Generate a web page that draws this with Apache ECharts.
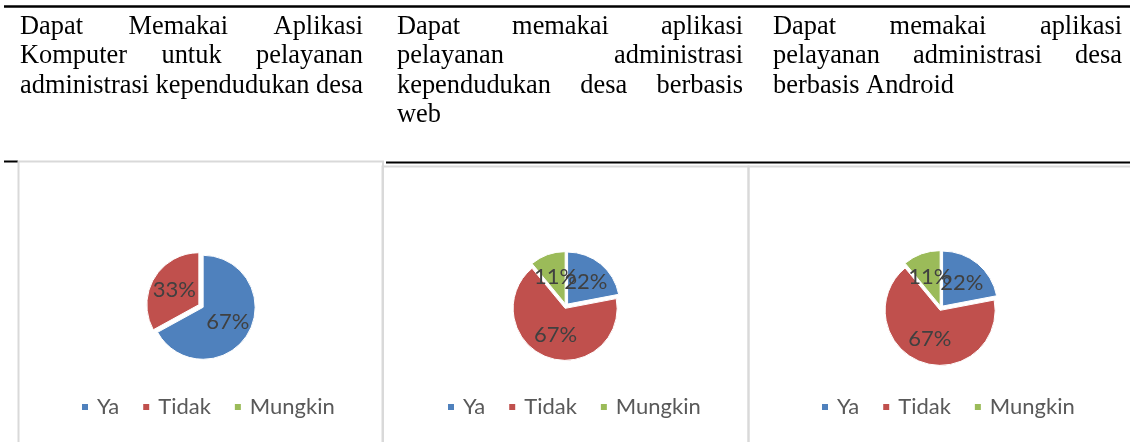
<!DOCTYPE html>
<html>
<head>
<meta charset="utf-8">
<script src="https://cdn.jsdelivr.net/npm/echarts@6/dist/echarts.min.js"></script>
<style>
html,body{margin:0;padding:0;background:#fff;}
#main{width:1130px;height:442px;}
</style>
</head>
<body>
<div id="main"></div>
<script>
// ---- data ----
const categories = ['Ya', 'Tidak', 'Mungkin'];
const valuesKomputer = [67, 33, 0];
const valuesWeb = [22, 67, 11];
const valuesAndroid = [22, 67, 11];
const headKomputer = ['Dapat Memakai Aplikasi', 'Komputer untuk pelayanan', 'administrasi kependudukan desa'];
const headWeb = ['Dapat memakai aplikasi', 'pelayanan administrasi', 'kependudukan desa berbasis', 'web'];
const headAndroid = ['Dapat memakai aplikasi', 'pelayanan administrasi desa', 'berbasis Android'];

// ---- layout ----
const palette = ['#4F81BD', '#C0504D', '#9BBB59'];
const serifFont = '26.4px "Liberation Serif"';
const headCols = [
  { lines: headKomputer, x0: 20, x1: 363 },
  { lines: headWeb, x0: 397, x1: 743 },
  { lines: headAndroid, x0: 773, x1: 1122 }
];
const firstBaseline = 35, lineStep = 29.6, midShift = 8.3;
const labelFont = 'Lato';
const labelSize = 22;
const explode = 2.5;

const ctx = document.createElement('canvas').getContext('2d');
ctx.font = serifFont;
const graphic = [];
headCols.forEach(col => {
  col.lines.forEach((line, i) => {
    const y = firstBaseline + i * lineStep - midShift;
    const last = i === col.lines.length - 1;
    const words = line.split(' ');
    if (last || words.length < 2) {
      graphic.push({ type: 'text', x: col.x0, y: y, silent: true,
        style: { text: line, font: serifFont, fill: '#000', align: 'left', verticalAlign: 'middle' } });
    } else {
      const widths = words.map(w => ctx.measureText(w).width);
      const total = widths.reduce((a, b) => a + b, 0);
      const gap = (col.x1 - col.x0 - total) / (words.length - 1);
      let x = col.x0;
      words.forEach((w, k) => {
        graphic.push({ type: 'text', x: x, y: y, silent: true,
          style: { text: w, font: serifFont, fill: '#000', align: 'left', verticalAlign: 'middle' } });
        x += widths[k] + gap;
      });
    }
  });
});
// rules
graphic.push({ type: 'line', silent: true, shape: { x1: 4, y1: 6.5, x2: 1130, y2: 6.5 }, style: { stroke: '#000', lineWidth: 2.5 } });
graphic.push({ type: 'line', silent: true, shape: { x1: 4, y1: 161.5, x2: 18, y2: 161.5 }, style: { stroke: '#000', lineWidth: 2 } });
graphic.push({ type: 'line', silent: true, shape: { x1: 386, y1: 162.5, x2: 1130, y2: 162.5 }, style: { stroke: '#000', lineWidth: 2 } });
// chart frames
graphic.push({ type: 'rect', silent: true, shape: { x: 18.5, y: 161.5, width: 364.5, height: 320 }, style: { fill: null, stroke: '#d9d9d9', lineWidth: 2 } });
graphic.push({ type: 'rect', silent: true, shape: { x: 382.5, y: 166.5, width: 366, height: 320 }, style: { fill: null, stroke: '#d9d9d9', lineWidth: 2 } });
graphic.push({ type: 'rect', silent: true, shape: { x: 748.5, y: 166.5, width: 400, height: 320 }, style: { fill: null, stroke: '#d9d9d9', lineWidth: 2 } });

const pies = [
  { vals: valuesKomputer, center: [201, 306], r: 52, legendLeft: 80 },
  { vals: valuesWeb, center: [566, 306], r: 52, legendLeft: 446 },
  { vals: valuesAndroid, center: [941, 308], r: 55, legendLeft: 820 }
];

const option = {
  backgroundColor: '#fff',
  animation: false,
  color: palette,
  legend: pies.map(p => ({
    data: categories,
    left: p.legendLeft,
    top: 395,
    padding: 0,
    orient: 'horizontal',
    icon: 'rect',
    itemWidth: 8,
    itemHeight: 8,
    itemGap: 22,
    selectedMode: false,
    textStyle: { fontFamily: labelFont, fontSize: labelSize, color: '#595959', lineHeight: 24, padding: [0, 0, 0, 3] }
  })),
  series: pies.map(p => ({
    type: 'pie',
    center: p.center,
    radius: p.r,
    startAngle: 90,
    clockwise: true,
    selectedMode: 'multiple',
    selectedOffset: explode,
    itemStyle: { borderColor: '#fff', borderWidth: 1 },
    emphasis: { disabled: true },
    label: { show: false },
    labelLine: { show: false },
    data: categories.map((n, j) => ({ name: n, value: p.vals[j], selected: true }))
  })),
  graphic: graphic
};
const chart = echarts.init(document.getElementById('main'), null, { renderer: 'canvas' });
chart.setOption(option);

// percentage labels placed from the library's own slice layout
try {
  const model = chart.getModel();
  pies.forEach((p, s) => {
    const data = model.getSeriesByIndex(s).getData();
    data.each(j => {
      const v = data.get('value', j);
      if (!(v > 0)) return;
      const L = data.getItemLayout(j);
      const mid = (L.startAngle + L.endAngle) / 2;
      const d = L.r * 0.55 + explode;
      graphic.push({ type: 'text', silent: true, z: 100,
        x: L.cx + Math.cos(mid) * d, y: L.cy + Math.sin(mid) * d,
        style: { text: v + '%', font: labelSize + 'px ' + labelFont, fill: '#404040', align: 'center', verticalAlign: 'middle' } });
    });
  });
  chart.setOption({ graphic: graphic });
} catch (e) {
  chart.setOption({ series: pies.map(() => ({ label: { show: true, position: 'inside', fontFamily: labelFont, fontSize: labelSize, color: '#404040', formatter: q => (q.value > 0 ? q.value + '%' : '') } })) });
}
</script>
</body>
</html>
